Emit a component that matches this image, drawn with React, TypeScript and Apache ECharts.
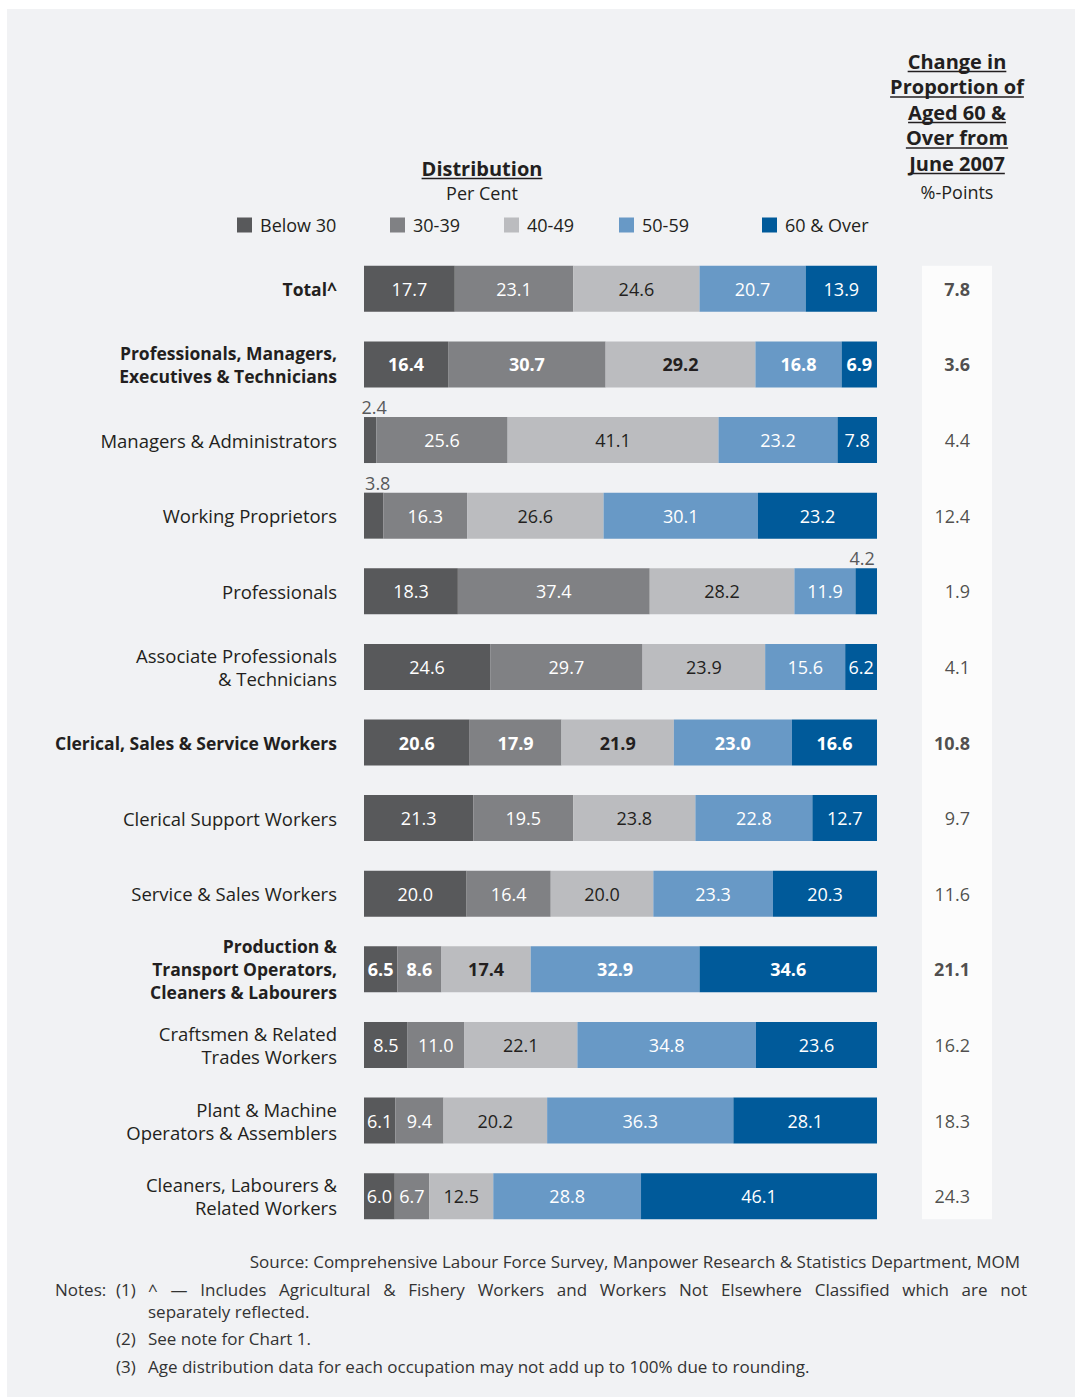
import React, { useEffect, useRef } from "react";
import * as echarts from "echarts";

const categories: string[] = [
  "Total^",
  "Professionals, Managers,\nExecutives & Technicians",
  "Managers & Administrators",
  "Working Proprietors",
  "Professionals",
  "Associate Professionals\n& Technicians",
  "Clerical, Sales & Service Workers",
  "Clerical Support Workers",
  "Service & Sales Workers",
  "Production &\nTransport Operators,\nCleaners & Labourers",
  "Craftsmen & Related\nTrades Workers",
  "Plant & Machine\nOperators & Assemblers",
  "Cleaners, Labourers &\nRelated Workers",
];
const boldRows: boolean[] = [true, true, false, false, false, false, true, false, false, true, false, false, false];
const boldBarRows: boolean[] = [false, true, false, false, false, false, true, false, false, true, false, false, false];

const seriesNames: string[] = ["Below 30", "30-39", "40-49", "50-59", "60 & Over"];
const below30: number[] = [17.7, 16.4, 2.4, 3.8, 18.3, 24.6, 20.6, 21.3, 20.0, 6.5, 8.5, 6.1, 6.0];
const age30to39: number[] = [23.1, 30.7, 25.6, 16.3, 37.4, 29.7, 17.9, 19.5, 16.4, 8.6, 11.0, 9.4, 6.7];
const age40to49: number[] = [24.6, 29.2, 41.1, 26.6, 28.2, 23.9, 21.9, 23.8, 20.0, 17.4, 22.1, 20.2, 12.5];
const age50to59: number[] = [20.7, 16.8, 23.2, 30.1, 11.9, 15.6, 23.0, 22.8, 23.3, 32.9, 34.8, 36.3, 28.8];
const age60plus: number[] = [13.9, 6.9, 7.8, 23.2, 4.2, 6.2, 16.6, 12.7, 20.3, 34.6, 23.6, 28.1, 46.1];
const changePts: number[] = [7.8, 3.6, 4.4, 12.4, 1.9, 4.1, 10.8, 9.7, 11.6, 21.1, 16.2, 18.3, 24.3];

const colors = ["#58595b", "#808184", "#bbbcbf", "#6899c6", "#005a9a"];
const labelColors = ["#ffffff", "#ffffff", "#231f20", "#ffffff", "#ffffff"];

const FONT = '"Open Sans", sans-serif';
const DARK = "#231f20";

const notes1Words = "^ — Includes Agricultural & Fishery Workers and Workers Not Elsewhere Classified which are not".split(" ");

function textWidth(t: string, font: string): number {
  const c = document.createElement("canvas").getContext("2d");
  if (!c) return t.length * 8;
  c.font = font;
  return c.measureText(t).width;
}

export default function App() {
  const ref = useRef<HTMLDivElement>(null);
  useEffect(() => {
    if (!ref.current) return;
    const chart = echarts.init(ref.current, undefined, { renderer: "svg" });

    const gridLeft = 364;
    const gridWidth = 513;
    const gridTop = 251;
    const gridHeight = 983;
    const allSeries = [below30, age30to39, age40to49, age50to59, age60plus];

    const series: any[] = allSeries.map((arr, si) => ({
      name: seriesNames[si],
      type: "bar",
      stack: "dist",
      barWidth: 46,
      xAxisIndex: 0,
      yAxisIndex: 0,
      itemStyle: { color: colors[si] },
      label: {
        show: true,
        position: "inside",
        color: labelColors[si],
        fontSize: 18,
        fontFamily: FONT,
        formatter: (p: any) => Number(p.value).toFixed(1),
      },
      data: arr.map((v, i) => {
        const small = v < 5;
        const lbl: any = { fontWeight: boldBarRows[i] ? "bold" : "normal" };
        if (small) {
          lbl.position = "top";
          lbl.distance = 1;
          lbl.color = "#58595b";
          lbl.fontWeight = "normal";
          lbl.offset = si === 0 ? [4, 0] : [-4, 0];
        }
        return { value: v, label: lbl };
      }),
    }));

    series.push({
      name: "change",
      type: "scatter",
      xAxisIndex: 1,
      yAxisIndex: 1,
      symbolSize: 0,
      silent: true,
      label: {
        show: true,
        position: "left",
        distance: 0,
        color: DARK,
        fontSize: 18,
        fontFamily: FONT,
        formatter: (p: any) => changePts[p.dataIndex].toFixed(1),
      },
      data: changePts.map((v, i) => ({
        value: [1, i],
        label: { fontWeight: boldRows[i] ? "bold" : "normal" },
      })),
    });

    const legendLefts = [237, 390, 504, 619, 762];
    const legends = seriesNames.map((n, i) => ({
      data: [n],
      left: legendLefts[i],
      top: 216,
      padding: 0,
      icon: "rect",
      itemWidth: 15,
      itemHeight: 15,
      selectedMode: false,
      textStyle: { fontSize: 18, color: DARK, fontFamily: FONT, padding: [0, 0, 0, 3] },
    }));

    const graphics: any[] = [];
    graphics.push({
      type: "rect",
      z: -10,
      shape: { x: 7, y: 9, width: 1068, height: 1388 },
      style: { fill: "#f1f2f4" },
    });
    graphics.push({
      type: "rect",
      z: -5,
      shape: { x: 922, y: gridTop + (gridHeight / categories.length - 46) / 2, width: 70, height: gridHeight - (gridHeight / categories.length - 46) },
      style: { fill: "#fcfcfc" },
    });

    const boldFont = `bold 20px ${FONT}`;
    const addHeader = (t: string, cx: number, cy: number) => {
      graphics.push({
        type: "text",
        x: cx,
        y: cy,
        style: { text: t, align: "center", verticalAlign: "middle", fontSize: 20, fontWeight: "bold", fontFamily: FONT, fill: DARK },
      });
      const w = textWidth(t, boldFont);
      graphics.push({
        type: "line",
        shape: { x1: cx - w / 2, y1: cy + 10.5, x2: cx + w / 2, y2: cy + 10.5 },
        style: { stroke: DARK, lineWidth: 1.5 },
      });
    };
    addHeader("Distribution", 482, 168);
    graphics.push({
      type: "text",
      x: 482,
      y: 193,
      style: { text: "Per Cent", align: "center", verticalAlign: "middle", fontSize: 18, fontFamily: FONT, fill: DARK },
    });
    const rightHeader = ["Change in", "Proportion of", "Aged 60 &", "Over from", "June 2007"];
    rightHeader.forEach((t, i) => addHeader(t, 957, 61 + i * 25.5));
    graphics.push({
      type: "text",
      x: 957,
      y: 192,
      style: { text: "%-Points", align: "center", verticalAlign: "middle", fontSize: 18, fontFamily: FONT, fill: DARK },
    });

    const noteStyle = { fontSize: 17, fontFamily: FONT, fill: "#333333" };
    const noteFont = `17px ${FONT}`;
    const addNote = (t: string, x: number, y: number, align = "left") => {
      graphics.push({
        type: "text",
        x,
        y,
        style: { ...noteStyle, text: t, align, verticalAlign: "middle" },
      });
    };
    addNote("Source: Comprehensive Labour Force Survey, Manpower Research & Statistics Department, MOM", 1020, 1261, "right");
    addNote("Notes:", 55, 1289);
    addNote("(1)", 116, 1289);
    const jLeft = 148;
    const jRight = 1027;
    const widths = notes1Words.map((w) => textWidth(w, noteFont));
    const total = widths.reduce((a, b) => a + b, 0);
    const gap = (jRight - jLeft - total) / (notes1Words.length - 1);
    let cx = jLeft;
    notes1Words.forEach((w, i) => {
      addNote(w, cx, 1289);
      cx += widths[i] + gap;
    });
    addNote("separately reflected.", 148, 1311);
    addNote("(2)", 116, 1338);
    addNote("See note for Chart 1.", 148, 1338);
    addNote("(3)", 116, 1366);
    addNote("Age distribution data for each occupation may not add up to 100% due to rounding.", 148, 1366);

    chart.setOption({
      animation: false,
      backgroundColor: "#ffffff",
      textStyle: { fontFamily: FONT },
      legend: legends,
      grid: [
        { left: gridLeft, width: gridWidth, top: gridTop, height: gridHeight },
        { left: 922, width: 48, top: gridTop, height: gridHeight },
      ],
      xAxis: [
        { type: "value", gridIndex: 0, min: 0, max: 100, show: false },
        { type: "value", gridIndex: 1, min: 0, max: 1, show: false },
      ],
      yAxis: [
        {
          type: "category",
          gridIndex: 0,
          inverse: true,
          data: categories,
          axisLine: { show: false },
          axisTick: { show: false },
          axisLabel: {
            margin: 27,
            align: "right",
            formatter: (v: string, i: number) => (boldRows[i] ? `{b|${v}}` : `{n|${v}}`),
            rich: {
              b: { fontSize: 17.5, fontWeight: "bold", color: DARK, fontFamily: FONT, lineHeight: 23, align: "right" },
              n: { fontSize: 18.5, color: DARK, fontFamily: FONT, lineHeight: 23, align: "right" },
            },
          },
        },
        { type: "category", gridIndex: 1, inverse: true, data: categories, show: false },
      ],
      graphic: graphics,
      series,
    });
    return () => chart.dispose();
  }, []);
  return <div ref={ref} style={{ position: "absolute", left: 0, top: 0, width: 1075, height: 1398 }} />;
}
